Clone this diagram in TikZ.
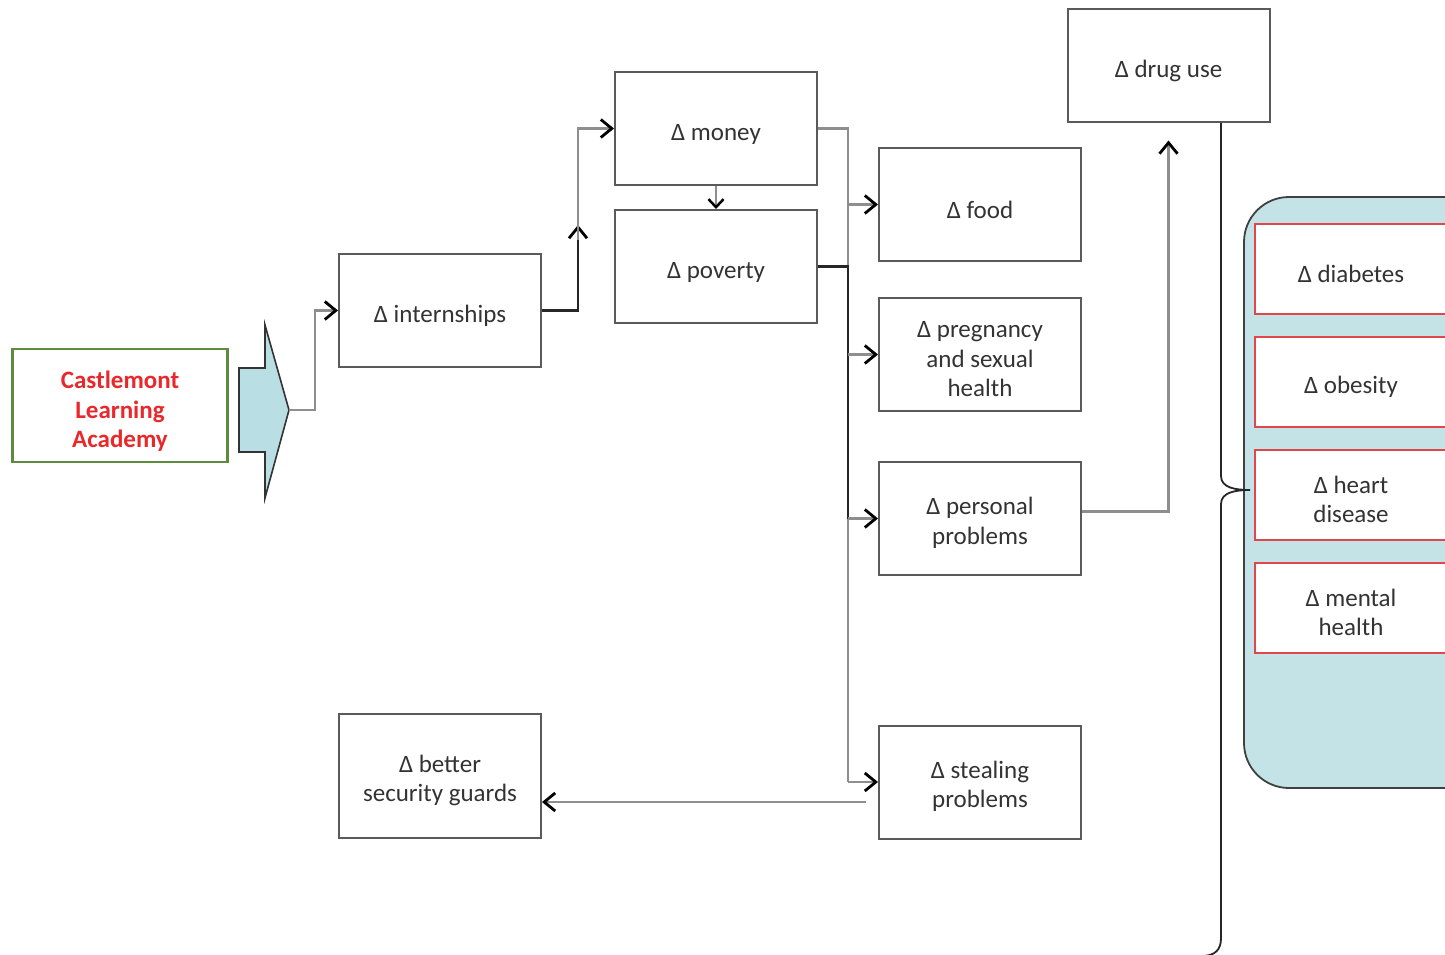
\documentclass[tikz,border=0pt]{standalone}
\usepackage{fontspec}
\setmainfont{Carlito}
\usetikzlibrary{arrows.meta}
\definecolor{boxgray}{HTML}{5A5A5A}
\definecolor{linegray}{HTML}{8E8E8E}
\definecolor{panelblue}{HTML}{C4E3E7}
\definecolor{arrowblue}{HTML}{B9DEE4}
\definecolor{castgreen}{HTML}{5E8C3E}
\definecolor{castred}{HTML}{E8282B}
\definecolor{boxred}{HTML}{E0474C}
\definecolor{txt}{HTML}{333333}
\newcommand\mystrut[1]{\rule{0pt}{#1}}
\begin{document}
\begin{tikzpicture}[x=1pt,y=-1pt,
  box/.style={draw=boxgray, line width=2pt, fill=white, minimum width=202pt, minimum height=113pt,
    align=center, inner sep=0pt, text=txt, font=\fontsize{25}{29.5}\selectfont,
    execute at begin node={\rule{0pt}{28pt}}},
  redbox/.style={box, draw=boxred, minimum width=192pt, minimum height=90pt},
  conn/.style={draw=linegray, line width=2.5pt},
  dconn/.style={draw=black!85, line width=2.5pt},
  tipd/.style={-{Straight Barb[length=11pt,width=18pt,line width=2.8pt,color=black]}}
]
\useasboundingbox (0,0) rectangle (1445,955);
\fill[white] (0,0) rectangle (1445,955);

% left
\node[box, draw=castgreen, line width=2.6pt, minimum width=215pt, text=castred, font=\fontsize{25}{29.5}\selectfont\bfseries] (cast) at (120,405.5) {\mystrut{29pt}Castlemont\\Learning\\Academy};
\draw[fill=arrowblue, draw=black!80, line width=1.6pt] (239,368) -- (265,368) -- (265,325) -- (289,410) -- (265,498) -- (265,452) -- (239,452) -- cycle;
\coordinate (ctip) at (289,410);

\node[box] (intern) at (440,310.5) {Δ internships};
\node[box] (money) at (716,128.5) {Δ money};
\node[box] (pov) at (716,266.5) {Δ poverty};
\node[box] (food) at (980,204.5) {Δ food};
\node[box] (preg) at (980,354.5) {\mystrut{26pt}Δ pregnancy\\and sexual\\health};
\node[box] (pers) at (980,518.5) {\mystrut{26pt}Δ personal\\problems};
\node[box] (steal) at (980,782) {\mystrut{26pt}Δ stealing\\problems};
\node[box] (drug) at (1168.5,66) {Δ drug use};
\node[box, minimum height=124pt] (better) at (440,776) {\mystrut{26pt}Δ better\\security guards};

% connectors
\draw[conn,tipd] (ctip) -- (315,410) |- (intern.west);
\coordinate (up) at (578,225);
\draw[dconn,tipd] (intern.east) -| (up);
\draw[conn,tipd] (578,240) |- (money.west);
\draw[conn,line width=2pt,-{Straight Barb[length=8pt,width=15pt,line width=2.5pt,color=black]}] (money.south) -- (pov.north);
\coordinate (trunk) at (848,128.5);
\draw[conn] (money.east) -- (trunk) -- (trunk |- steal.west);
\draw[conn,tipd] (trunk |- steal.west) -- (steal.west);
\draw[conn,tipd] (trunk |- food.west) -- (food.west);
\draw[dconn] (pov.east) -| (trunk |- pers.west);
\draw[conn,tipd] (trunk |- preg.west) -- (preg.west);
\draw[conn,tipd] (trunk |- pers.west) -- (pers.west);
\draw[conn,tipd,shorten >=17pt] ([yshift=7pt]pers.east) -| (drug.south);
\coordinate (sfrom) at (866,802);
\draw[conn,tipd] (sfrom) -- (sfrom -| better.east);

% right panel
\begin{scope}
\clip (0,0) rectangle (1445,955);
\draw[fill=panelblue, draw=black!75, line width=1.8pt, rounded corners=45pt] (1244,197) rectangle (1520,788);
\node[redbox] (diab) at (1351,268.5) {Δ diabetes};
\node[redbox] (obes) at (1351,382) {Δ obesity};
\node[redbox] (heart) at (1351,495) {\mystrut{26pt}Δ heart\\disease};
\node[redbox] (mental) at (1351,608) {\mystrut{26pt}Δ mental\\health};
\end{scope}

% brace
\coordinate (bracetop) at (1221,123);
\draw[black!85, line width=1.8pt] (bracetop) -- (1221,476) .. controls (1221,488) and (1236,490) .. (1250,490)
  .. controls (1236,490) and (1221,492) .. (1221,504) -- (1221,938) .. controls (1221,950) and (1215,955) .. (1204,956);
\end{tikzpicture}
\end{document}
